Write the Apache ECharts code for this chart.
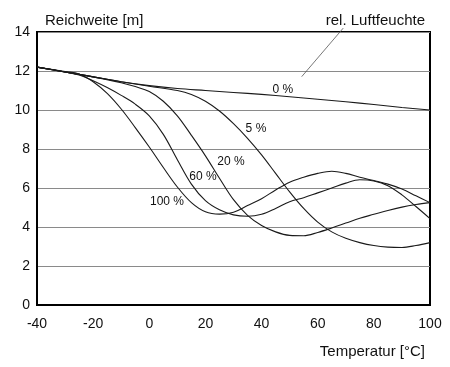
<!DOCTYPE html>
<html>
<head>
<meta charset="utf-8">
<script src="https://cdn.jsdelivr.net/npm/echarts@6/dist/echarts.min.js"></script>
<style>html,body{margin:0;padding:0;background:#fff}#c{width:450px;height:367px}</style>
</head>
<body>
<div id="c"></div>
<script>
var xTicks = [-40, -20, 0, 20, 40, 60, 80, 100];
var yTicks = [0, 2, 4, 6, 8, 10, 12, 14];
var seriesNames = ['0 %', '5 %', '20 %', '60 %', '100 %'];

var rh0 = [[-40,12.2],[-30,11.95],[-20,11.7],[-10,11.45],[0,11.25],[10,11.1],[20,11.0],[30,10.9],[40,10.8],[50,10.68],[60,10.55],[70,10.42],[80,10.28],[90,10.13],[100,10.0]];
var rh5 = [[-40,12.2],[-30,11.95],[-20,11.7],[-10,11.45],[0,11.22],[10,11.0],[15,10.8],[20,10.45],[25,9.95],[30,9.3],[35,8.55],[40,7.7],[45,6.75],[50,5.8],[55,4.95],[60,4.25],[65,3.75],[70,3.42],[75,3.2],[80,3.05],[85,2.97],[90,2.95],[95,3.05],[100,3.2]];
var rh20 = [[-40,12.2],[-30,11.95],[-20,11.7],[-10,11.4],[-5,11.2],[0,10.95],[5,10.45],[10,9.7],[15,8.7],[20,7.65],[25,6.5],[30,5.4],[35,4.6],[40,4.08],[45,3.75],[50,3.57],[55,3.55],[60,3.72],[65,3.95],[70,4.2],[75,4.45],[80,4.65],[85,4.85],[90,5.02],[95,5.15],[100,5.25]];
var rh60 = [[-40,12.2],[-30,11.95],[-25,11.8],[-20,11.5],[-15,11.15],[-10,10.75],[-5,10.3],[0,9.7],[5,8.75],[10,7.45],[15,6.2],[20,5.35],[25,4.88],[30,4.62],[35,4.55],[40,4.65],[45,4.95],[50,5.3],[55,5.5],[60,5.75],[65,6.0],[70,6.25],[75,6.42],[80,6.36],[85,6.12],[90,5.65],[95,5.05],[100,4.43]];
var rh100 = [[-40,12.2],[-30,11.97],[-25,11.85],[-20,11.45],[-15,10.85],[-10,10.05],[-5,9.1],[0,8.1],[5,7.05],[10,6.05],[15,5.25],[20,4.78],[25,4.66],[30,4.76],[35,5.1],[40,5.45],[45,5.9],[50,6.3],[55,6.55],[60,6.75],[65,6.86],[70,6.75],[75,6.55],[80,6.38],[85,6.2],[90,5.95],[95,5.6],[100,5.25]];
var allData = [rh0, rh5, rh20, rh60, rh100];

// label anchors in data units
var labelPos = [[47.6,11.03],[38.0,9.03],[29.1,7.33],[19.1,6.56],[6.3,5.28]];
var pointerLine = [[54.3,11.71],[69.1,14.2]];

var FONT = 'Liberation Sans, Arial, Helvetica, sans-serif';
var chart = echarts.init(document.getElementById('c'), null, {renderer:'canvas'});

var series = allData.map(function(d, i){
  return {
    name: seriesNames[i], type: 'line', data: d, smooth: 0.35,
    showSymbol: false, symbol: 'none', clip: false,
    lineStyle: {color: '#1a1a1a', width: 1.1},
    z: 3, animation: false
  };
});

chart.setOption({
  animation: false,
  textStyle: {fontFamily: FONT},
  grid: {left: 37, right: 20, top: 32, bottom: 62, show: true, borderColor: '#000', borderWidth: 2, backgroundColor: 'transparent'},
  xAxis: {
    type: 'value', min: -40, max: 100, interval: 20,
    axisLine: {show: true, onZero: false, lineStyle: {color: '#000', width: 2}},
    axisTick: {show: false},
    splitLine: {show: false},
    axisLabel: {color: '#111', fontSize: 14, margin: 12, fontFamily: FONT,
      formatter: function(v){ return xTicks.indexOf(v) >= 0 ? String(v) : ''; }}
  },
  yAxis: {
    type: 'value', min: 0, max: 14, interval: 2,
    axisLine: {show: true, onZero: false, lineStyle: {color: '#000', width: 2}},
    axisTick: {show: false},
    splitLine: {show: true, lineStyle: {color: '#8a8a8a', width: 1}},
    axisLabel: {color: '#111', fontSize: 14, margin: 7, fontFamily: FONT,
      formatter: function(v){ return yTicks.indexOf(v) >= 0 ? String(v) : ''; }}
  },
  title: [
    {text: 'Reichweite [m]', left: 40, top: 8, textStyle: {fontSize: 15, fontWeight: 'normal', color: '#111', fontFamily: FONT}},
    {text: 'rel. Luftfeuchte', right: 20, top: 8, textStyle: {fontSize: 15, fontWeight: 'normal', color: '#111', fontFamily: FONT}},
    {text: 'Temperatur [°C]', right: 20, top: 339, textStyle: {fontSize: 15, fontWeight: 'normal', color: '#111', fontFamily: FONT}}
  ],
  series: series
});

var g = [];
labelPos.forEach(function(p, i){
  var px = chart.convertToPixel({gridIndex: 0}, p);
  g.push({type: 'text', x: px[0], y: px[1], z: 10,
    style: {text: seriesNames[i], font: '12px ' + FONT, fill: '#111', textAlign: 'center', textVerticalAlign: 'middle'}});
});
var a = chart.convertToPixel({gridIndex: 0}, pointerLine[0]);
var b = chart.convertToPixel({gridIndex: 0}, pointerLine[1]);
g.push({type: 'line', z: 10, shape: {x1: a[0], y1: a[1], x2: b[0], y2: b[1]}, style: {stroke: '#555', lineWidth: 0.8}});
chart.setOption({graphic: g});
</script>
</body>
</html>
